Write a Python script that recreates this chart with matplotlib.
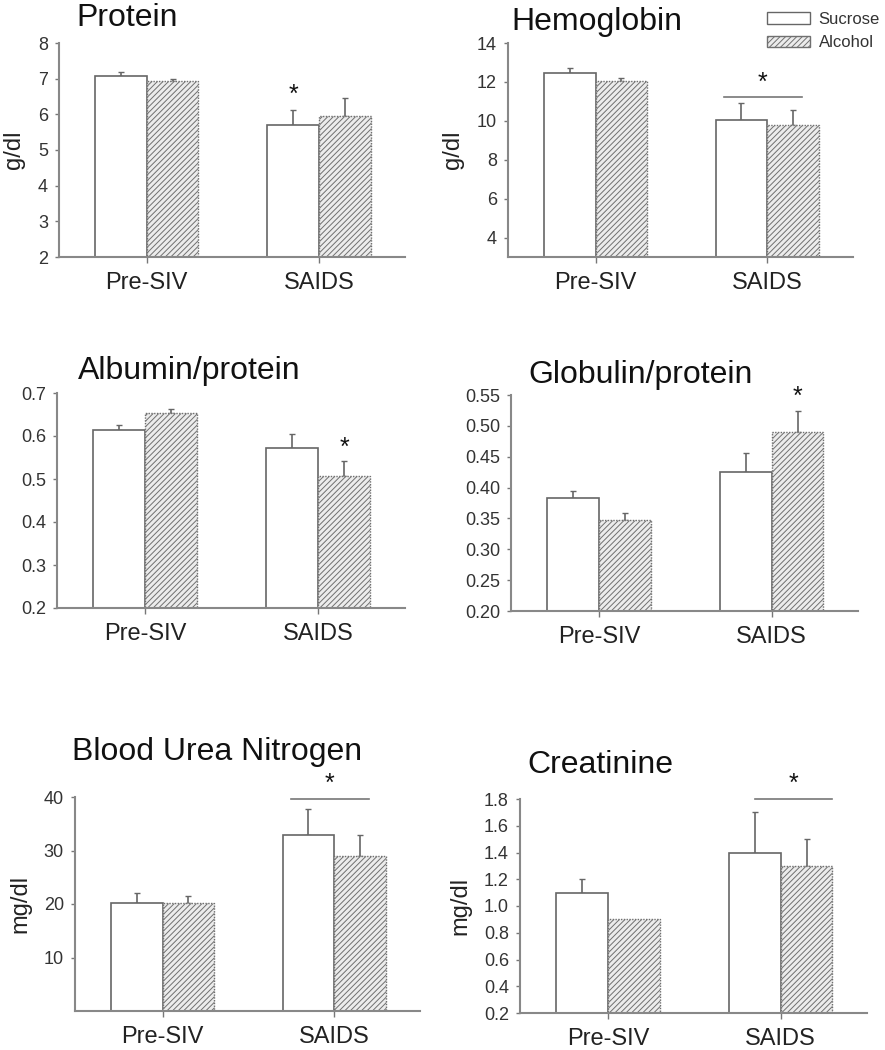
import matplotlib
matplotlib.use("Agg")
import matplotlib.pyplot as plt
from matplotlib.patches import Patch

plt.rcParams['font.family'] = ['Liberation Sans', 'DejaVu Sans']
plt.rcParams['hatch.linewidth'] = 0.7

groups = ["Pre-SIV", "SAIDS"]

# panel data: sucrose / alcohol means and upper error (SEM)
protein_suc = [7.08, 5.70]
protein_suc_err = [0.10, 0.42]
protein_alc = [6.93, 5.95]
protein_alc_err = [0.07, 0.52]

hemo_suc = [12.45, 10.05]
hemo_suc_err = [0.25, 0.85]
hemo_alc = [12.05, 9.80]
hemo_alc_err = [0.15, 0.75]

alb_suc = [0.614, 0.572]
alb_suc_err = [0.012, 0.033]
alb_alc = [0.653, 0.507]
alb_alc_err = [0.010, 0.034]

glob_suc = [0.383, 0.425]
glob_suc_err = [0.011, 0.031]
glob_alc = [0.347, 0.490]
glob_alc_err = [0.011, 0.034]

bun_suc = [20.2, 32.9]
bun_suc_err = [1.8, 4.8]
bun_alc = [20.2, 29.0]
bun_alc_err = [1.3, 3.9]

creat_suc = [1.10, 1.40]
creat_suc_err = [0.10, 0.30]
creat_alc = [0.90, 1.30]
creat_alc_err = [0.0, 0.20]

W, H = 885, 1050
fig = plt.figure(figsize=(W / 100, H / 100), dpi=100)


def make_axes(left, right, top, bottom):
    return fig.add_axes([left / W, 1 - bottom / H, (right - left) / W, (bottom - top) / H])


def draw_panel(ax, title, tx, ty, suc, suc_err, alc, alc_err, ylim, yticks, ylabels, ylabel=None):
    centers = [1, 3]
    w = 0.6
    xs = [c - w / 2 for c in centers]
    xa = [c + w / 2 for c in centers]
    ax.bar(xs, suc, width=w, color='white', edgecolor='#666666', linewidth=1.2, zorder=2)
    ax.bar(xa, alc, width=w, color='#ececec', edgecolor='#707070', hatch='//////',
           linewidth=1.0, linestyle=(0, (1, 1)), zorder=2)
    for x, v, e in zip(xs, suc, suc_err):
        if e > 0:
            ax.errorbar(x, v, yerr=[[0], [e]], color='#666666', capsize=2, elinewidth=1.2, zorder=1)
    for x, v, e in zip(xa, alc, alc_err):
        if e > 0:
            ax.errorbar(x, v, yerr=[[0], [e]], color='#666666', capsize=2, elinewidth=1.2, zorder=1)
    ax.set_xlim(-0.02, 4.0)
    ax.set_ylim(*ylim)
    ax.set_yticks(yticks)
    ax.set_yticklabels(ylabels)
    ax.set_xticks(centers)
    ax.set_xticklabels(groups, fontsize=17, color='#222222')
    ax.tick_params(axis='x', length=4, width=1, color='#777777', pad=7)
    ax.tick_params(axis='y', length=3, width=1, color='#777777', labelsize=13,
                   labelcolor='#333333', pad=5)
    for s in ['top', 'right']:
        ax.spines[s].set_visible(False)
    for s in ['left', 'bottom']:
        ax.spines[s].set_color('#888888')
        ax.spines[s].set_linewidth(1.5)
    ax.text(tx, ty, title, transform=ax.transAxes, fontsize=23, ha='left', va='baseline',
            color='#111111')
    if ylabel:
        ax.set_ylabel(ylabel, fontsize=17, color='#222222', labelpad=9)


ax1 = make_axes(59, 405, 43, 257)
draw_panel(ax1, "Protein", 0.05, 1.079, protein_suc, protein_suc_err, protein_alc, protein_alc_err,
           (2, 8), [2, 3, 4, 5, 6, 7, 8], ["2", "3", "4", "5", "6", "7", "8"], "g/dl")
ax1.text(2.7, 6.35, "*", fontsize=18, ha='center', color='#111111')

ax2 = make_axes(508, 853, 43, 257)
draw_panel(ax2, "Hemoglobin", 0.01, 1.061, hemo_suc, hemo_suc_err, hemo_alc, hemo_alc_err,
           (3, 14), [4, 6, 8, 10, 12, 14], ["4", "6", "8", "10", "12", "14"], "g/dl")
ax2.plot([2.5, 3.4], [11.2, 11.2], color='#777777', linewidth=1.2)
ax2.text(2.95, 11.6, "*", fontsize=18, ha='center', color='#111111')

ax3 = make_axes(57, 405, 393, 608)
draw_panel(ax3, "Albumin/protein", 0.06, 1.065, alb_suc, alb_suc_err, alb_alc, alb_alc_err,
           (0.2, 0.7), [0.2, 0.3, 0.4, 0.5, 0.6, 0.7], ["0.2", "0.3", "0.4", "0.5", "0.6", "0.7"])
ax3.text(3.3, 0.555, "*", fontsize=18, ha='center', color='#111111')

ax4 = make_axes(511, 858, 395, 611)
draw_panel(ax4, "Globulin/protein", 0.05, 1.056, glob_suc, glob_suc_err, glob_alc, glob_alc_err,
           (0.2, 0.55), [0.2, 0.25, 0.3, 0.35, 0.4, 0.45, 0.5, 0.55],
           ["0.20", "0.25", "0.30", "0.35", "0.40", "0.45", "0.50", "0.55"])
ax4.text(3.3, 0.535, "*", fontsize=18, ha='center', color='#111111')

ax5 = make_axes(75, 420, 797, 1011)
draw_panel(ax5, "Blood Urea Nitrogen", -0.01, 1.173, bun_suc, bun_suc_err, bun_alc, bun_alc_err,
           (0, 40), [10, 20, 30, 40], ["10", "20", "30", "40"], "mg/dl")
ax5.plot([2.5, 3.4], [39.6, 39.6], color='#777777', linewidth=1.2, clip_on=False)
ax5.text(2.95, 41.2, "*", fontsize=18, ha='center', color='#111111', clip_on=False)

ax6 = make_axes(520, 867, 799, 1013)
draw_panel(ax6, "Creatinine", 0.02, 1.121, creat_suc, creat_suc_err, creat_alc, creat_alc_err,
           (0.2, 1.8), [0.2, 0.4, 0.6, 0.8, 1.0, 1.2, 1.4, 1.6, 1.8],
           ["0.2", "0.4", "0.6", "0.8", "1.0", "1.2", "1.4", "1.6", "1.8"], "mg/dl")
ax6.plot([2.7, 3.6], [1.8, 1.8], color='#777777', linewidth=1.2, clip_on=False)
ax6.text(3.15, 1.86, "*", fontsize=18, ha='center', color='#111111', clip_on=False)

handles = [Patch(facecolor='white', edgecolor='#666666', linewidth=1.0, label='Sucrose'),
           Patch(facecolor='#ececec', edgecolor='#707070', hatch='//////', linewidth=1.0,
                 label='Alcohol')]
fig.legend(handles=handles, loc='upper left', bbox_to_anchor=(752 / W, 1 + 3 / H),
           frameon=False, fontsize=12, handlelength=2.6, handleheight=0.7,
           labelspacing=0.5, handletextpad=0.5, labelcolor='#333333')

fig.savefig("out.png", dpi=100, facecolor='white')
